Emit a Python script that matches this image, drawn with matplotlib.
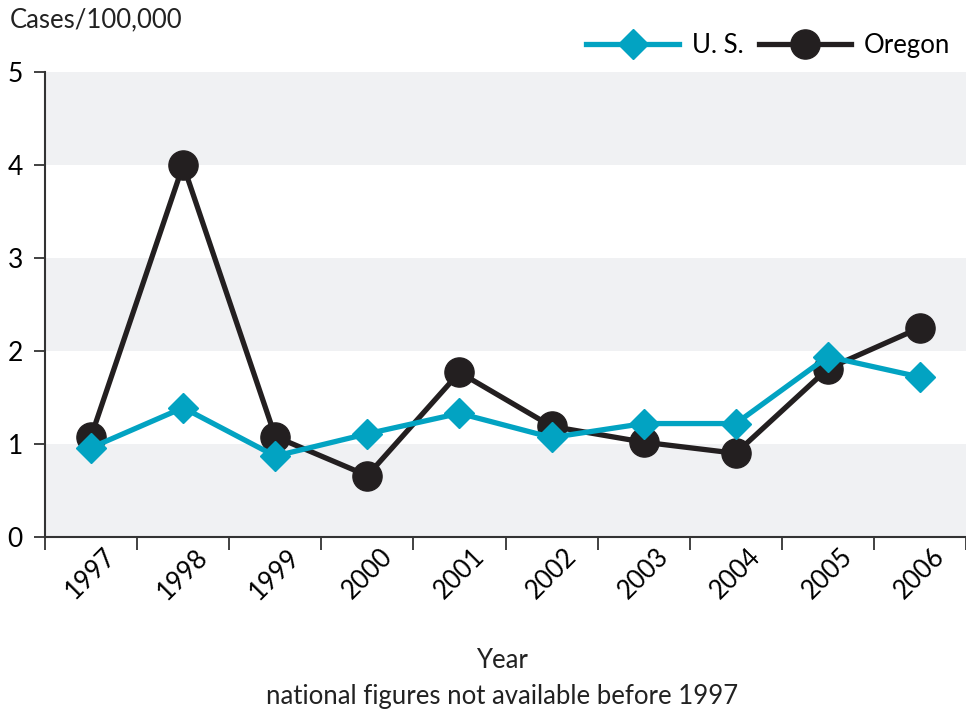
import matplotlib
matplotlib.use("Agg")
import matplotlib.pyplot as plt
import numpy as np

years = ["1997", "1998", "1999", "2000", "2001", "2002", "2003", "2004", "2005", "2006"]
us = [0.96, 1.39, 0.87, 1.11, 1.33, 1.07, 1.22, 1.22, 1.94, 1.72]
oregon = [1.08, 4.00, 1.08, 0.66, 1.77, 1.19, 1.02, 0.90, 1.81, 2.25]
yticks = [0, 1, 2, 3, 4, 5]

plt.rcParams['font.family'] = ['Lato', 'DejaVu Sans']

fig = plt.figure(figsize=(9.66, 7.16), dpi=100)
ax = fig.add_axes([0.0466, 0.25, 0.9534, 0.6494])

x = np.arange(len(years))
# bands
for lo in [0, 2, 4]:
    ax.axhspan(lo, lo + 1, color="#f0f1f3", zorder=0, lw=0)

us_color = "#02a3c2"
or_color = "#231f20"
ax.plot(x, oregon, color=or_color, lw=3.8, marker="o", ms=21, zorder=3, label="Oregon")
ax.plot(x, us, color=us_color, lw=3.8, marker="D", ms=15, zorder=4, label="U. S.")

ax.set_xlim(-0.5, len(years) - 0.5)
ax.set_ylim(0, 5)
ax.set_yticks(yticks)
ax.set_yticklabels([str(v) for v in yticks], fontsize=19)
ax.set_xticks(x)
ax.set_xticklabels(years, rotation=45, ha="center", va="top", fontsize=18.5)
ax.set_xticks(np.arange(-0.5, len(years)), minor=True)
ax.tick_params(axis="x", which="major", length=0, pad=5)
ax.tick_params(axis="x", which="minor", length=9, width=1.3, color="#333333")
ax.tick_params(axis="y", length=8, width=1.3, color="#333333", pad=8)

for s in ["top", "right"]:
    ax.spines[s].set_visible(False)
for s in ["left", "bottom"]:
    ax.spines[s].set_color("#333333")
    ax.spines[s].set_linewidth(1.5)

fig.text(0.010, 0.972, "Cases/100,000", fontsize=18.5, ha="left", va="center", color="#222222")
fig.text(0.52, 0.077, "Year", fontsize=18.5, ha="center", va="center", color="#222222")
fig.text(0.52, 0.027, "national figures not available before 1997", fontsize=18.5,
         ha="center", va="center", color="#222222")

h, l = ax.get_legend_handles_labels()
fig.legend([h[1], h[0]], [l[1], l[0]], loc="center right", bbox_to_anchor=(1.0, 0.937),
           ncol=2, frameon=False, fontsize=18.5, handlelength=3.6, columnspacing=0.6,
           handletextpad=0.5, borderaxespad=0.2)

fig.savefig("out.png", dpi=100)
